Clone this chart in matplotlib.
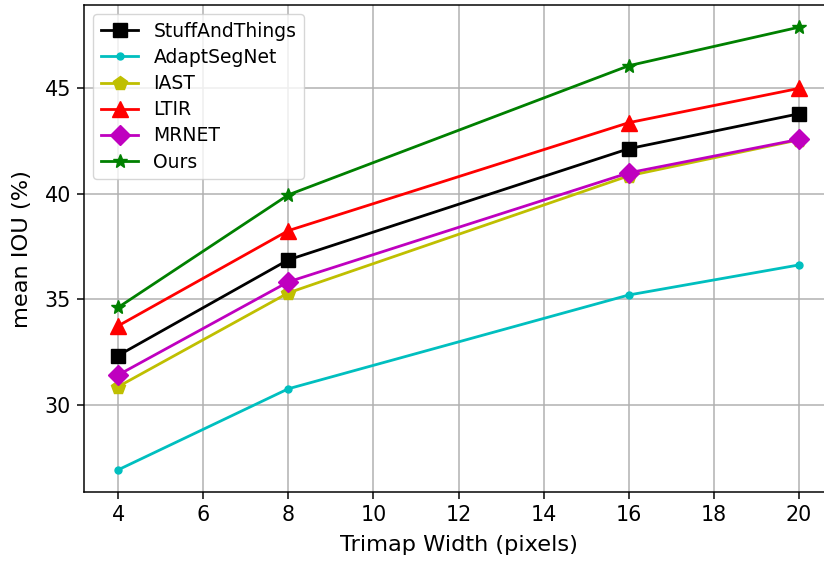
import matplotlib
matplotlib.use('Agg')
import matplotlib.pyplot as plt

widths = [4, 8, 16, 20]
stuff_and_things = [32.35, 36.87, 42.12, 43.77]
adapt_seg_net = [26.95, 30.78, 35.21, 36.63]
iast = [30.88, 35.31, 40.84, 42.54]
ltir = [33.75, 38.25, 43.35, 44.97]
mrnet = [31.43, 35.83, 40.98, 42.56]
ours = [34.62, 39.94, 46.04, 47.86]

# original looks like a 1.35x scaled default figure
s = 1.35
plt.rcParams.update({
    'font.size': 10 * s,
    'xtick.labelsize': 11 * s,
    'ytick.labelsize': 11 * s,
    'axes.labelsize': 12 * s,
    'legend.fontsize': 10 * s,
    'legend.labelspacing': 0.38,
    'xtick.major.size': 3.5 * s,
    'ytick.major.size': 3.5 * s,
    'xtick.major.width': 0.8 * s,
    'ytick.major.width': 0.8 * s,
    'xtick.major.pad': 3.5 * s,
    'ytick.major.pad': 3.5 * s,
    'axes.labelpad': 4.0 * s,
    'axes.linewidth': 0.8 * s,
})

fig = plt.figure(figsize=(8.24, 5.61), dpi=100)
ax = fig.add_axes([0.102, 0.123, 0.909, 0.868])

ax.plot(widths, stuff_and_things, color='k', marker='s', markersize=10, linewidth=2, label='StuffAndThings')
ax.plot(widths, adapt_seg_net, color='c', marker='o', markersize=5, linewidth=2, label='AdaptSegNet')
ax.plot(widths, iast, color='y', marker='p', markersize=10, linewidth=2, label='IAST')
ax.plot(widths, ltir, color='r', marker='^', markersize=11, linewidth=2, label='LTIR')
ax.plot(widths, mrnet, color='m', marker='D', markersize=10, linewidth=2, label='MRNET')
ax.plot(widths, ours, color='g', marker='*', markersize=10, linewidth=2, label='Ours')

ax.set_xticks([4, 6, 8, 10, 12, 14, 16, 18, 20])
ax.set_yticks([30, 35, 40, 45])
ax.set_xlabel('Trimap Width (pixels)', labelpad=7)
ax.set_ylabel('mean IOU (%)', labelpad=9)
ax.grid(True, color='#b0b0b0', linewidth=0.8 * s)
ax.legend(loc='upper left')

fig.savefig('out.png', dpi=100)
